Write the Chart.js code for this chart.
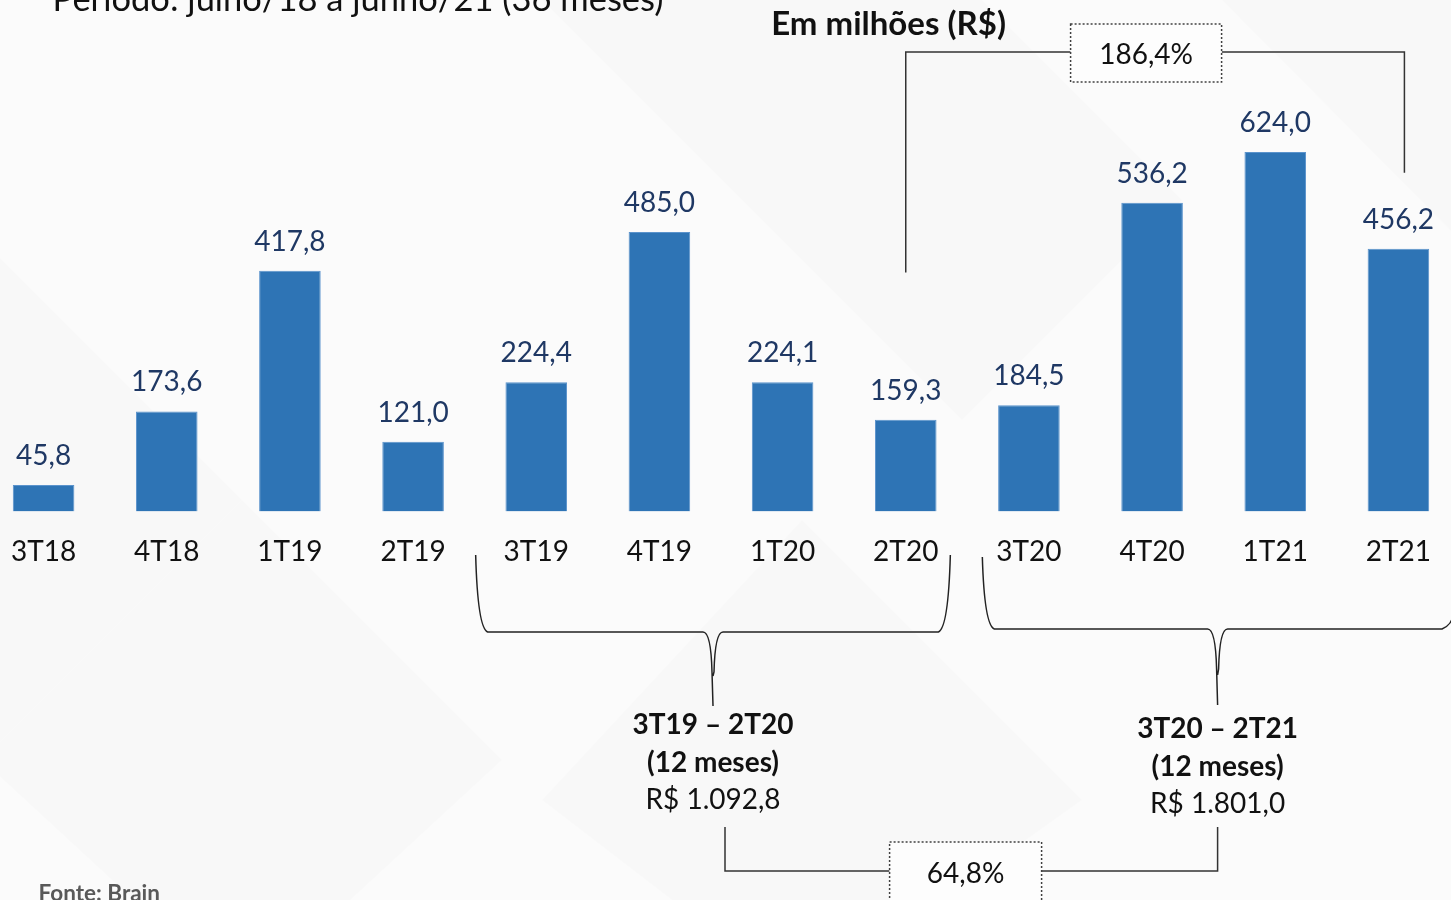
<!DOCTYPE html>
<html>
<head>
<meta charset="utf-8">
<script src="https://cdn.jsdelivr.net/npm/chart.js@4.4.1/dist/chart.umd.min.js"></script>
<style>
  html, body { margin: 0; padding: 0; width: 1451px; height: 900px; overflow: hidden; background: #fafafa; }
  #wrap { position: absolute; left: -17.6px; top: 0; width: 1478.4px; height: 900px; }
</style>
</head>
<body>
<div id="wrap"><canvas id="chart" width="1478" height="900"></canvas></div>
<script>
// trimestres e valores (em milhões de R$)
const categories = ['3T18', '4T18', '1T19', '2T19', '3T19', '4T19', '1T20', '2T20', '3T20', '4T20', '1T21', '2T21'];
const values = [45.8, 173.6, 417.8, 121.0, 224.4, 485.0, 224.1, 159.3, 184.5, 536.2, 624.0, 456.2];
const periodLabels = ['3T19 – 2T20', '3T20 – 2T21'];
const periodTotals = ['R$ 1.092,8', 'R$ 1.801,0'];
const growthLabels = ['186,4%', '64,8%'];

const OFFSET = 17.6; // canvas starts left of the page
const FONT = 'Lato, "Noto Sans", sans-serif';
const fmt = v => v.toFixed(1).replace('.', ',');

const background = {
    id: 'background',
    beforeDraw(chart) {
        const ctx = chart.ctx;
        ctx.save();
        ctx.fillStyle = '#fbfbfb';
        ctx.fillRect(0, 0, chart.width, chart.height);
        ctx.fillStyle = 'rgba(0,0,0,0.012)';
        const polys = [
            [[0, 240], [260, 500], [0, 760]],
            [[260, 500], [520, 760], [260, 1000], [0, 760]],
            [[560, 0], [980, 420], [1200, 200], [1000, 0]],
            [[1240, 0], [1478, 240], [1478, 0]],
            [[820, 520], [1100, 800], [820, 1000], [560, 800]]
        ];
        polys.forEach(p => {
            ctx.beginPath();
            p.forEach(([x, y], i) => i ? ctx.lineTo(x, y) : ctx.moveTo(x, y));
            ctx.closePath();
            ctx.fill();
        });
        ctx.restore();
    }
};

const valueLabels = {
    id: 'valueLabels',
    afterDatasetsDraw(chart) {
        const ctx = chart.ctx;
        ctx.save();
        ctx.font = '28px ' + FONT;
        ctx.fillStyle = '#1f3864';
        ctx.textAlign = 'center';
        ctx.textBaseline = 'alphabetic';
        chart.getDatasetMeta(0).data.forEach((bar, i) => {
            ctx.fillText(fmt(values[i]), bar.x, bar.y - 20);
        });
        ctx.restore();
    }
};

function brace(ctx, x1, x2, yTop, yLine, yTip, xMid, rightOpen) {
    ctx.beginPath();
    ctx.moveTo(x1, yTop);
    ctx.quadraticCurveTo(x1 + 2, yLine - 4, x1 + 12, yLine);
    ctx.lineTo(xMid - 10, yLine);
    ctx.quadraticCurveTo(xMid - 2, yLine, xMid - 1, yLine + 40);
    ctx.lineTo(xMid, yTip);
    ctx.moveTo(xMid, yTip - 30);
    ctx.lineTo(xMid + 1, yLine + 40);
    ctx.quadraticCurveTo(xMid + 2, yLine, xMid + 10, yLine);
    ctx.lineTo(x2 - 12, yLine);
    ctx.quadraticCurveTo(x2 - 2, yLine - 4, x2, rightOpen ? yLine - 16 : yTop);
    ctx.stroke();
}

function box(ctx, x1, y1, x2, y2, text, ty) {
    ctx.save();
    ctx.fillStyle = '#fdfdfd';
    ctx.fillRect(x1, y1, x2 - x1, y2 - y1);
    ctx.setLineDash([2, 2]);
    ctx.lineWidth = 1.5;
    ctx.strokeStyle = '#404040';
    ctx.strokeRect(x1, y1, x2 - x1, y2 - y1);
    ctx.restore();
    ctx.font = '28px ' + FONT;
    ctx.fillStyle = '#111';
    ctx.textAlign = 'center';
    ctx.fillText(text, (x1 + x2) / 2, ty);
}

const annotations = {
    id: 'annotations',
    afterDraw(chart) {
        const ctx = chart.ctx;
        const x = chart.scales.x, y = chart.scales.y;
        const half = (x.getPixelForValue(1) - x.getPixelForValue(0)) / 2;
        const px = i => x.getPixelForValue(i);
        ctx.save();
        ctx.fillStyle = '#111';
        ctx.textBaseline = 'alphabetic';

        // título cortado no topo
        ctx.font = '34.5px ' + FONT;
        ctx.textAlign = 'left';
        ctx.fillText('Período: julho/18 a junho/21 (36 meses)', 53 + OFFSET, 11);

        ctx.font = 'bold 33px ' + FONT;
        ctx.textAlign = 'center';
        ctx.fillText('Em milhões (R$)', 889 + OFFSET, 35);

        // colchete 2T20 -> 2T21
        ctx.strokeStyle = '#333';
        ctx.lineWidth = 1.5;
        const yb = 52;
        const bx1 = 1071 + OFFSET, bx2 = 1222 + OFFSET;
        ctx.beginPath();
        ctx.moveTo(px(7), y.getPixelForValue(415));
        ctx.lineTo(px(7), yb);
        ctx.lineTo(bx1, yb);
        ctx.moveTo(bx2, yb);
        ctx.lineTo(px(11) + 6, yb);
        ctx.lineTo(px(11) + 6, y.getPixelForValue(588));
        ctx.stroke();
        box(ctx, bx1, 24, bx2, 82, growthLabels[0], 64);

        // chaves
        ctx.strokeStyle = '#222';
        ctx.lineWidth = 1.5;
        const m1 = (px(4) - half + 1 + px(7) + half - 17) / 2;
        const m2 = 1218 + OFFSET;
        brace(ctx, px(4) - half + 1, px(7) + half - 17, 555, 632, 706, m1, false);
        brace(ctx, px(8) - half + 15, px(11) + half - 6, 557, 629, 705, m2, true);

        // textos dos períodos
        [[m1, 734], [m2, 738]].forEach(([cx, by], k) => {
            ctx.fillStyle = '#111';
            ctx.textAlign = 'center';
            ctx.font = 'bold 28px ' + FONT;
            ctx.fillText(periodLabels[k], cx, by);
            ctx.fillText('(12 meses)', cx, by + 38);
            ctx.font = '28px ' + FONT;
            ctx.fillText(periodTotals[k], cx, by + 75);
        });

        // colchete inferior
        ctx.strokeStyle = '#333';
        const l1 = m1 + 12, yl = 871;
        const cx1 = 890 + OFFSET, cx2 = 1042 + OFFSET;
        ctx.beginPath();
        ctx.moveTo(l1, 827);
        ctx.lineTo(l1, yl);
        ctx.lineTo(cx1, yl);
        ctx.moveTo(cx2, yl);
        ctx.lineTo(m2, yl);
        ctx.lineTo(m2, 827);
        ctx.stroke();
        box(ctx, cx1, 842, cx2, 910, growthLabels[1], 883);

        ctx.font = 'bold 22.5px ' + FONT;
        ctx.fillStyle = '#595959';
        ctx.textAlign = 'left';
        ctx.fillText('Fonte: Brain', 39 + OFFSET, 901);
        ctx.restore();
    }
};

new Chart(document.getElementById('chart'), {
    type: 'bar',
    data: {
        labels: categories,
        datasets: [{
            data: values,
            backgroundColor: '#2e74b5',
            borderColor: '#5b93cc',
            borderWidth: 1,
            barPercentage: 0.5,
            categoryPercentage: 1
        }]
    },
    options: {
        responsive: false,
        animation: false,
        layout: { padding: { top: 108.3, bottom: 307, left: 0, right: 0 } },
        plugins: { legend: { display: false }, tooltip: { enabled: false } },
        scales: {
            x: {
                grid: { display: false, drawTicks: false },
                border: { display: false },
                ticks: { color: '#111', padding: 24, font: { family: FONT, size: 28 } }
            },
            y: { display: false, min: 0, max: 700 }
        }
    },
    plugins: [background, valueLabels, annotations]
});
</script>
</body>
</html>
